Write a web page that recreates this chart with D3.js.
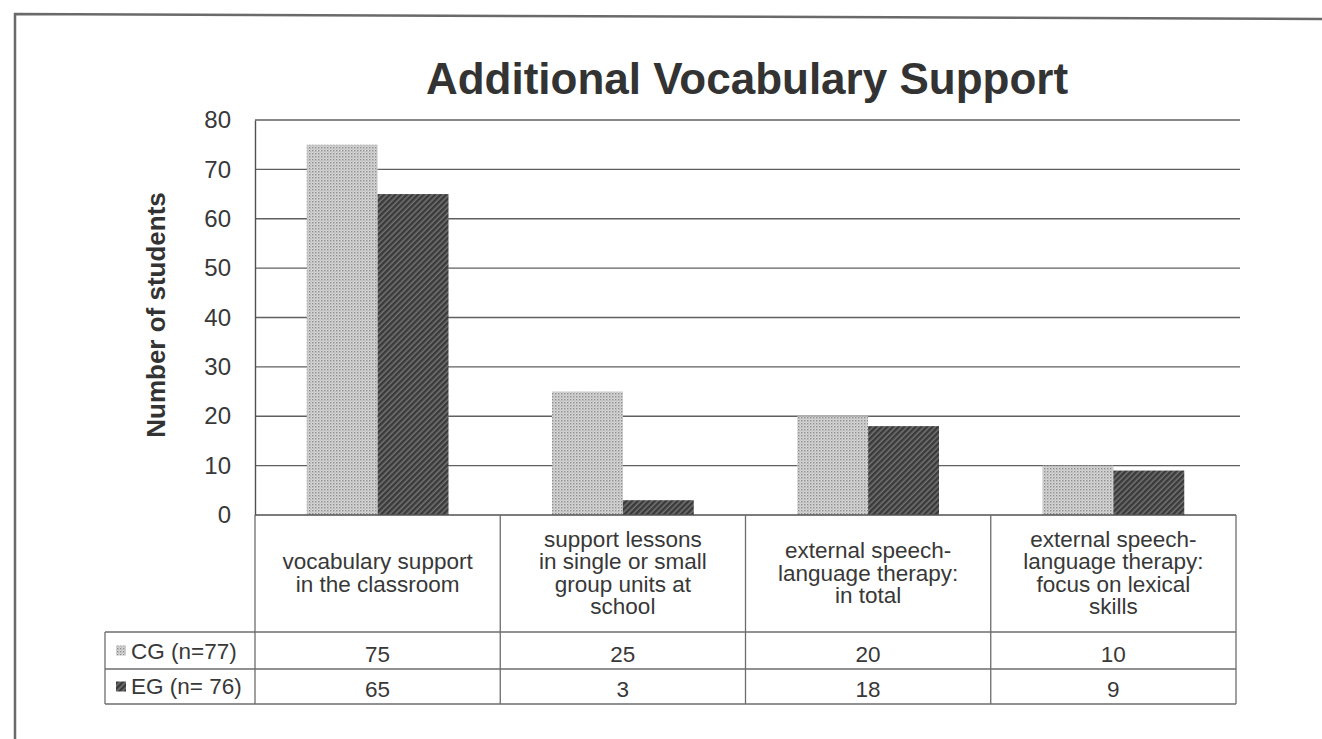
<!DOCTYPE html>
<html>
<head>
<meta charset="utf-8">
<script src="https://cdn.jsdelivr.net/npm/d3@7"></script>
<style>
  body { margin: 0; background: #fff; }
  svg { display: block; }
</style>
</head>
<body>
<div id="content"></div>
<script>
const categories = [
    ['vocabulary support', 'in the classroom'],
    ['support lessons', 'in single or small', 'group units at', 'school'],
    ['external speech-', 'language therapy:', 'in total'],
    ['external speech-', 'language therapy:', 'focus on lexical', 'skills']
]
const seriesNames = ['CG (n=77)', 'EG (n= 76)']
const cgValues = [75, 25, 20, 10]
const egValues = [65, 3, 18, 9]
const yTicks = [0, 10, 20, 30, 40, 50, 60, 70, 80]

const width = 1322
const height = 739
const font = 'Liberation Sans, Arial, Helvetica, sans-serif'
const textColor = '#383838'
const tableFont = 22.5

const plotLeft = 255
const plotRight = 1236
const plotTop = 120
const plotBottom = 515
const legendLeft = 105
const headerBottom = 632
const rowBottoms = [669, 704]

const series = [
    { name: seriesNames[0], values: cgValues, fill: 'url(#dots)' },
    { name: seriesNames[1], values: egValues, fill: 'url(#hatch)' }
]

const svg = d3.select('#content')
    .append('svg')
    .attr('width', width)
    .attr('height', height)

// textures from the scan
const defs = svg.append('defs')
const dots = defs.append('pattern')
    .attr('id', 'dots')
    .attr('patternUnits', 'userSpaceOnUse')
    .attr('width', 3)
    .attr('height', 3)
dots.append('rect').attr('width', 3).attr('height', 3).attr('fill', '#d6d6d6')
dots.append('rect').attr('x', 0).attr('y', 0).attr('width', 1.4).attr('height', 1.4).attr('fill', '#8e8e8e')
dots.append('rect').attr('x', 1.5).attr('y', 1.5).attr('width', 1).attr('height', 1).attr('fill', '#a8a8a8')

const hatch = defs.append('pattern')
    .attr('id', 'hatch')
    .attr('patternUnits', 'userSpaceOnUse')
    .attr('width', 4)
    .attr('height', 4)
    .attr('patternTransform', 'rotate(45)')
hatch.append('rect').attr('width', 4).attr('height', 4).attr('fill', '#747474')
hatch.append('rect').attr('width', 2.5).attr('height', 4).attr('fill', '#3a3a3a')

// outer frame
svg.append('path')
    .attr('d', `M15,${height} L15,14 L${width},19`)
    .attr('fill', 'none')
    .attr('stroke', '#6a6a6a')
    .attr('stroke-width', 2.5)

const scaleX = d3.scaleBand()
    .domain(d3.range(categories.length))
    .range([plotLeft, plotRight])

const scaleSeries = d3.scaleBand()
    .domain(d3.range(series.length))
    .range([0, scaleX.bandwidth()])
    .paddingInner(0)
    .paddingOuter(0.73)

const scaleY = d3.scaleLinear()
    .domain([0, 80])
    .range([plotBottom, plotTop])

svg.append('text')
    .text('Additional Vocabulary Support')
    .attr('x', 747)
    .attr('y', 94)
    .attr('text-anchor', 'middle')
    .attr('font-family', font)
    .attr('font-weight', 'bold')
    .attr('font-size', 44)
    .attr('fill', '#333')

svg.append('text')
    .text('Number of students')
    .attr('transform', 'translate(165, 315) rotate(-90)')
    .attr('text-anchor', 'middle')
    .attr('font-family', font)
    .attr('font-weight', 'bold')
    .attr('font-size', 26)
    .attr('fill', '#333')

// gridlines
svg.append('g')
    .selectAll('line')
    .data(yTicks.filter(d => d > 0))
    .join('line')
    .attr('x1', plotLeft)
    .attr('x2', plotRight + 4)
    .attr('y1', d => scaleY(d))
    .attr('y2', d => scaleY(d))
    .attr('stroke', '#606060')
    .attr('stroke-width', 1.4)

const yAxis = svg.append('g')
    .attr('transform', `translate(${plotLeft},0)`)
    .call(d3.axisLeft(scaleY).tickValues(yTicks).tickSize(0).tickPadding(24))
yAxis.select('.domain').attr('stroke', '#505050').attr('stroke-width', 1.4)
yAxis.selectAll('text')
    .attr('font-family', font)
    .attr('font-size', 24)
    .attr('fill', textColor)

// bars
const groups = svg.append('g')
    .selectAll('g')
    .data(series)
    .join('g')
    .attr('fill', d => d.fill)

groups.selectAll('rect')
    .data((d, i) => d.values.map((v, j) => ({ value: v, cat: j, s: i })))
    .join('rect')
    .attr('x', d => scaleX(d.cat) + scaleSeries(d.s))
    .attr('width', scaleSeries.bandwidth())
    .attr('y', d => scaleY(d.value))
    .attr('height', d => scaleY(0) - scaleY(d.value))

// data table
const table = svg.append('g')
    .attr('stroke', '#6c6c6c')
    .attr('stroke-width', 1.3)

table.append('line')
    .attr('x1', plotLeft).attr('x2', plotRight)
    .attr('y1', plotBottom).attr('y2', plotBottom)
    .attr('stroke', '#505050')
    .attr('stroke-width', 1.6)

table.selectAll('.row-line')
    .data([headerBottom, ...rowBottoms])
    .join('line')
    .attr('class', 'row-line')
    .attr('x1', legendLeft).attr('x2', plotRight)
    .attr('y1', d => d).attr('y2', d => d)

table.selectAll('.col-line')
    .data(d3.range(categories.length + 1))
    .join('line')
    .attr('class', 'col-line')
    .attr('x1', d => d < categories.length ? scaleX(d) : plotRight)
    .attr('x2', d => d < categories.length ? scaleX(d) : plotRight)
    .attr('y1', plotBottom)
    .attr('y2', rowBottoms[1])

table.append('line')
    .attr('x1', legendLeft).attr('x2', legendLeft)
    .attr('y1', headerBottom).attr('y2', rowBottoms[1])

// category labels
const lineHeight = 22.5
const headerMid = (plotBottom + headerBottom) / 2
svg.append('g')
    .selectAll('text')
    .data(categories)
    .join('text')
    .attr('font-family', font)
    .attr('font-size', tableFont)
    .attr('fill', textColor)
    .attr('text-anchor', 'middle')
    .each(function (d, i) {
        const first = headerMid - (d.length - 1) * lineHeight / 2 + 7
        d3.select(this).selectAll('tspan')
            .data(d)
            .join('tspan')
            .attr('x', scaleX(i) + scaleX.bandwidth() / 2)
            .attr('y', (t, k) => first + k * lineHeight)
            .text(t => t)
    })

// value rows
const rowTops = [headerBottom, rowBottoms[0]]
series.forEach((s, i) => {
    svg.append('g')
        .selectAll('text')
        .data(s.values)
        .join('text')
        .text(d => d)
        .attr('x', (d, j) => scaleX(j) + scaleX.bandwidth() / 2)
        .attr('y', rowBottoms[i] - 7)
        .attr('text-anchor', 'middle')
        .attr('font-family', font)
        .attr('font-size', tableFont)
        .attr('fill', textColor)

    svg.append('rect')
        .attr('x', 116)
        .attr('y', (rowTops[i] + rowBottoms[i]) / 2 - 5)
        .attr('width', 10)
        .attr('height', 10)
        .attr('fill', s.fill)

    svg.append('text')
        .text(s.name)
        .attr('x', 131)
        .attr('y', rowBottoms[i] - 10)
        .attr('font-family', font)
        .attr('font-size', tableFont)
        .attr('fill', textColor)
})
</script>
</body>
</html>
